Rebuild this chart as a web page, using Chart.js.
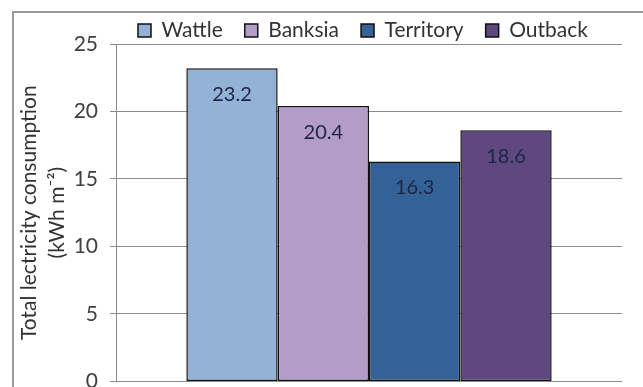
<!DOCTYPE html>
<html>
<head>
<meta charset="utf-8">
<script src="https://cdn.jsdelivr.net/npm/chart.js@4.4.1/dist/chart.umd.min.js"></script>
<style>
  html, body { margin: 0; padding: 0; background: #fff; overflow: hidden; }
  #frame { position: absolute; left: 12px; top: 11px; width: 640px; height: 400px;
           border-left: 2px solid #999; border-top: 2px solid #999; }
  #wrap { position: absolute; left: 0; top: 0; width: 643px; height: 406px; }
</style>
</head>
<body>
<div id="frame"></div>
<div id="wrap"><canvas id="chart"></canvas></div>
<script>
// Chart data
const categories = [''];
const seriesNames = ['Wattle', 'Banksia', 'Territory', 'Outback'];
const seriesValues = [23.2, 20.4, 16.3, 18.6];
const seriesColors = ['#94b1d6', '#b39dc8', '#346196', '#5f4880'];
const yTicks = [0, 5, 10, 15, 20, 25];
const yTitle = ['Total lectricity consumption', '(kWh m\u207B\u00B2)'];

Chart.defaults.font.family = 'Lato';
Chart.defaults.color = '#333';

// Value labels inside the top of each bar
const barLabels = {
  id: 'barLabels',
  afterDatasetsDraw(chart) {
    const ctx = chart.ctx;
    ctx.save();
    ctx.font = '20px Lato';
    ctx.fillStyle = '#1c2541';
    ctx.textAlign = 'center';
    ctx.textBaseline = 'middle';
    chart.data.datasets.forEach((ds, i) => {
      chart.getDatasetMeta(i).data.forEach((bar, j) => {
        ctx.fillText(ds.data[j].toFixed(1), bar.x, bar.y + 26);
      });
    });
    ctx.restore();
  }
};

const datasets = seriesNames.map((name, i) => ({
  label: name,
  data: [seriesValues[i]],
  backgroundColor: seriesColors[i],
  borderColor: '#111',
  borderWidth: 1.5,
  borderSkipped: false
}));

new Chart(document.getElementById('chart'), {
  type: 'bar',
  data: { labels: categories, datasets: datasets },
  options: {
    responsive: true,
    maintainAspectRatio: false,
    animation: false,
    layout: { padding: { left: 0, right: 21, top: -2, bottom: 0 } },
    datasets: { bar: { barPercentage: 1, categoryPercentage: 0.722 } },
    plugins: {
      tooltip: { enabled: false },
      legend: {
        position: 'top',
        align: 'start',
        fullSize: false,
        maxHeight: 46,
        labels: {
          boxWidth: 13,
          boxHeight: 13,
          padding: 22,
          color: '#333',
          font: { size: 21 }
        }
      }
    },
    scales: {
      x: { display: false },
      y: {
        min: 0,
        max: 25,
        afterBuildTicks: (scale) => { scale.ticks = yTicks.map(v => ({ value: v })); },
        afterFit: (scale) => { scale.width = 116; },
        grid: { color: '#8c8c8c', lineWidth: 1, tickLength: 6 },
        border: { display: true, color: '#8c8c8c', width: 1 },
        ticks: { padding: 12, color: '#404040', font: { size: 21 } },
        title: {
          display: true,
          text: yTitle,
          color: '#333',
          font: { size: 21, lineHeight: 1.35 },
          padding: { top: 15, bottom: 0 }
        }
      }
    }
  },
  plugins: [barLabels]
});
</script>
</body>
</html>
